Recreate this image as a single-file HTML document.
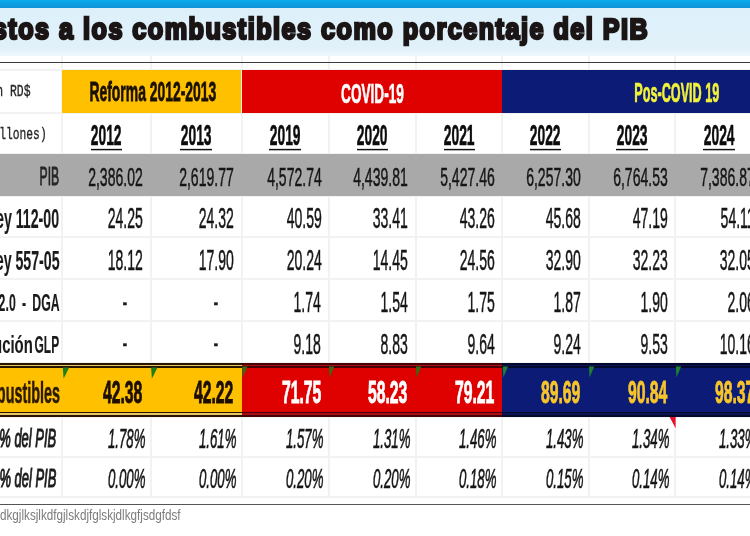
<!DOCTYPE html>
<html lang="es">
<head>
<meta charset="utf-8">
<title>Impuestos a los combustibles como porcentaje del PIB</title>
<style>
html,body{margin:0;padding:0;background:#fff;}
#pg{position:relative;width:750px;height:536px;overflow:hidden;background:#fff;font-family:"Liberation Sans", sans-serif;will-change:transform;}
#pg div,#pg span,#pg svg{position:absolute;}
.t{white-space:nowrap;line-height:1;display:block;}
.v{width:2px;background:#f2f2f2;}
.h{height:2px;background:#f2f2f2;}
</style>
</head>
<body>
<div id="pg">
<div style="left:0.0px;top:0.0px;width:750.0px;height:7.5px;background:linear-gradient(#0baaec,#0f92d6);"></div>
<div style="left:0.0px;top:7.5px;width:750.0px;height:48.5px;background:linear-gradient(#ddf0fa 0,#e1f1fa 85%,#eef7fc 100%);"></div>
<div class="h" style="top:112px;left:0px;width:750px"></div>
<div class="h" style="top:153px;left:0px;width:750px"></div>
<div class="h" style="top:195px;left:0px;width:750px"></div>
<div class="h" style="top:236px;left:0px;width:750px"></div>
<div class="h" style="top:278px;left:0px;width:750px"></div>
<div class="h" style="top:320px;left:0px;width:750px"></div>
<div class="h" style="top:362px;left:0px;width:750px"></div>
<div class="h" style="top:416px;left:0px;width:750px"></div>
<div class="h" style="top:456px;left:0px;width:750px"></div>
<div class="h" style="top:496px;left:0px;width:750px"></div>
<div class="h" style="top:69px;left:0px;width:750px"></div>
<div class="v" style="left:61px;top:56px;height:442px"></div>
<div class="v" style="left:150px;top:56px;height:442px"></div>
<div class="v" style="left:241px;top:56px;height:442px"></div>
<div class="v" style="left:328px;top:56px;height:442px"></div>
<div class="v" style="left:415px;top:56px;height:442px"></div>
<div class="v" style="left:501px;top:56px;height:442px"></div>
<div class="v" style="left:588px;top:56px;height:442px"></div>
<div class="v" style="left:674px;top:56px;height:442px"></div>
<div style="left:0.0px;top:62.0px;width:750.0px;height:1.0px;background:#3a3a3a;"></div>
<div style="left:62.3px;top:70.1px;width:179.2px;height:43.3px;background:#ffc000;"></div>
<div style="left:241.5px;top:70.1px;width:260.9px;height:43.3px;background:#df0000;"></div>
<div style="left:502.4px;top:70.1px;width:247.6px;height:43.3px;background:#0b1b76;"></div>
<div style="left:0.0px;top:154.2px;width:750.0px;height:41.4px;background:#a9a9a9;"></div>
<div style="left:90.7px;top:149.0px;width:31.6px;height:1.0px;background:#111;"></div>
<div style="left:90.7px;top:148.0px;width:31.6px;height:1.0px;background:rgba(17,17,17,0.15);"></div>
<div style="left:90.7px;top:150.0px;width:31.6px;height:1.0px;background:rgba(17,17,17,0.33);"></div>
<div style="left:180.4px;top:149.0px;width:31.6px;height:1.0px;background:#111;"></div>
<div style="left:180.4px;top:148.0px;width:31.6px;height:1.0px;background:rgba(17,17,17,0.15);"></div>
<div style="left:180.4px;top:150.0px;width:31.6px;height:1.0px;background:rgba(17,17,17,0.33);"></div>
<div style="left:269.4px;top:149.0px;width:31.6px;height:1.0px;background:#111;"></div>
<div style="left:269.4px;top:148.0px;width:31.6px;height:1.0px;background:rgba(17,17,17,0.15);"></div>
<div style="left:269.4px;top:150.0px;width:31.6px;height:1.0px;background:rgba(17,17,17,0.33);"></div>
<div style="left:356.7px;top:149.0px;width:31.6px;height:1.0px;background:#111;"></div>
<div style="left:356.7px;top:148.0px;width:31.6px;height:1.0px;background:rgba(17,17,17,0.15);"></div>
<div style="left:356.7px;top:150.0px;width:31.6px;height:1.0px;background:rgba(17,17,17,0.33);"></div>
<div style="left:443.5px;top:149.0px;width:31.6px;height:1.0px;background:#111;"></div>
<div style="left:443.5px;top:148.0px;width:31.6px;height:1.0px;background:rgba(17,17,17,0.15);"></div>
<div style="left:443.5px;top:150.0px;width:31.6px;height:1.0px;background:rgba(17,17,17,0.33);"></div>
<div style="left:529.8px;top:149.0px;width:31.6px;height:1.0px;background:#111;"></div>
<div style="left:529.8px;top:148.0px;width:31.6px;height:1.0px;background:rgba(17,17,17,0.15);"></div>
<div style="left:529.8px;top:150.0px;width:31.6px;height:1.0px;background:rgba(17,17,17,0.33);"></div>
<div style="left:616.2px;top:149.0px;width:31.6px;height:1.0px;background:#111;"></div>
<div style="left:616.2px;top:148.0px;width:31.6px;height:1.0px;background:rgba(17,17,17,0.15);"></div>
<div style="left:616.2px;top:150.0px;width:31.6px;height:1.0px;background:rgba(17,17,17,0.33);"></div>
<div style="left:703.2px;top:149.0px;width:31.6px;height:1.0px;background:#111;"></div>
<div style="left:703.2px;top:148.0px;width:31.6px;height:1.0px;background:rgba(17,17,17,0.15);"></div>
<div style="left:703.2px;top:150.0px;width:31.6px;height:1.0px;background:rgba(17,17,17,0.33);"></div>
<div style="left:0.0px;top:363.3px;width:241.9px;height:53.4px;background:#ffc000;"></div>
<div style="left:0.0px;top:363.3px;width:241.9px;height:4.5px;background:#e6c868;"></div>
<div style="left:0.0px;top:412.0px;width:241.9px;height:4.7px;background:#e6c868;"></div>
<div style="left:0.0px;top:363.0px;width:241.9px;height:1.6px;background:#2a1600;"></div>
<div style="left:0.0px;top:366.2px;width:241.9px;height:1.6px;background:#2a1600;"></div>
<div style="left:0.0px;top:412.0px;width:241.9px;height:1.4px;background:#2a1600;"></div>
<div style="left:0.0px;top:415.0px;width:241.9px;height:1.7px;background:#2a1600;"></div>
<div style="left:241.9px;top:363.3px;width:260.5px;height:53.4px;background:#df0000;"></div>
<div style="left:241.9px;top:363.3px;width:260.5px;height:4.5px;background:#a80f14;"></div>
<div style="left:241.9px;top:412.0px;width:260.5px;height:4.7px;background:#a80f14;"></div>
<div style="left:241.9px;top:363.0px;width:260.5px;height:1.6px;background:#470006;"></div>
<div style="left:241.9px;top:366.2px;width:260.5px;height:1.6px;background:#470006;"></div>
<div style="left:241.9px;top:412.0px;width:260.5px;height:1.4px;background:#470006;"></div>
<div style="left:241.9px;top:415.0px;width:260.5px;height:1.7px;background:#470006;"></div>
<div style="left:502.4px;top:363.3px;width:247.6px;height:53.4px;background:#0b1b76;"></div>
<div style="left:502.4px;top:363.3px;width:247.6px;height:4.5px;background:#0a1452;"></div>
<div style="left:502.4px;top:412.0px;width:247.6px;height:4.7px;background:#0a1452;"></div>
<div style="left:502.4px;top:363.0px;width:247.6px;height:1.6px;background:#04082c;"></div>
<div style="left:502.4px;top:366.2px;width:247.6px;height:1.6px;background:#04082c;"></div>
<div style="left:502.4px;top:412.0px;width:247.6px;height:1.4px;background:#04082c;"></div>
<div style="left:502.4px;top:415.0px;width:247.6px;height:1.7px;background:#04082c;"></div>
<svg style="left:0;top:0" width="750" height="536" viewBox="0 0 750 536">
<polygon points="62.8,367.6 69.2,367.6 63.6,378.8" fill="#1f7f1a"/>
<polygon points="151.1,367.6 157.5,367.6 151.9,378.8" fill="#1f7f1a"/>
<polygon points="242.2,366.4 247.5,366.4 242.7,377.6" fill="#356b14"/>
<polygon points="329.0,366.4 334.3,366.4 329.5,377.6" fill="#356b14"/>
<polygon points="416.0,366.4 421.3,366.4 416.5,377.6" fill="#356b14"/>
<polygon points="502.8,366.4 508.1,366.4 503.3,377.6" fill="#1f8030"/>
<polygon points="589.0,366.4 594.3,366.4 589.5,377.6" fill="#1f8030"/>
<polygon points="675.9,366.4 681.2,366.4 676.4,377.6" fill="#1f8030"/>
<polygon points="669.6,417 675.6,417 675.6,428.2" fill="#e8102a"/>
</svg>
<div style="left:0.0px;top:504.0px;width:750.0px;height:1.2px;background:#555;"></div>
<span class="t" style="top:15.04px;font-size:28.9px;color:#1b1516;font-weight:700;right:100.89px;transform-origin:100% 50%;transform:scaleX(0.8721);-webkit-text-stroke:2.6px #1b1516;letter-spacing:1.7px;">Impuestos a los combustibles como porcentaje del PIB</span>
<span class="t" style="top:83.14px;font-size:17.3px;color:#262626;font-family:'Liberation Mono', monospace;right:719.00px;transform-origin:100% 50%;transform:scaleX(0.6600);-webkit-text-stroke:0.35px #262626;">Millones en RD$</span>
<span class="t" style="top:125.74px;font-size:17.3px;color:#262626;font-family:'Liberation Mono', monospace;right:702.80px;transform-origin:100% 50%;transform:scaleX(0.6550);-webkit-text-stroke:0.35px #262626;">(Millones)</span>
<span class="t" style="top:163.42px;font-size:26.2px;color:#262626;right:690.60px;transform-origin:100% 50%;transform:scaleX(0.4650);-webkit-text-stroke:1.0px #262626;">PIB</span>
<span class="t" style="top:205.26px;font-size:27.1px;color:#1a1a1a;font-weight:700;right:690.80px;transform-origin:100% 50%;transform:scaleX(0.5230);-webkit-text-stroke:0.15px #1a1a1a;">Ley 112-00</span>
<span class="t" style="top:247.16px;font-size:27.1px;color:#1a1a1a;font-weight:700;right:690.80px;transform-origin:100% 50%;transform:scaleX(0.5230);-webkit-text-stroke:0.15px #1a1a1a;">Ley 557-05</span>
<span class="t" style="top:291.25px;font-size:24.4px;color:#1a1a1a;font-weight:700;right:690.70px;transform-origin:100% 50%;transform:scaleX(0.5050);-webkit-text-stroke:0.15px #1a1a1a;word-spacing:5.5px;">Gasoil 2.0 - DGA</span>
<span class="t" style="top:332.75px;font-size:24.4px;color:#1a1a1a;font-weight:700;right:717.20px;transform-origin:100% 50%;transform:scaleX(0.6100);-webkit-text-stroke:0.15px #1a1a1a;">Contribución</span>
<span class="t" style="top:332.75px;font-size:24.4px;color:#1a1a1a;font-weight:700;right:690.60px;transform-origin:100% 50%;transform:scaleX(0.4906);-webkit-text-stroke:0.15px #1a1a1a;">GLP</span>
<span class="t" style="top:376.87px;font-size:30.4px;color:#2b1a00;font-weight:700;right:690.40px;transform-origin:100% 50%;transform:scaleX(0.4740);-webkit-text-stroke:0.6px #2b1a00;">Total impuestos combustibles</span>
<span class="t" style="top:425.32px;font-size:26.2px;color:#1c1c1c;font-style:italic;right:693.50px;transform-origin:100% 50%;transform:scaleX(0.4940);-webkit-text-stroke:1.2px #1c1c1c;">Recaudación % del PIB</span>
<span class="t" style="top:465.12px;font-size:26.2px;color:#1c1c1c;font-style:italic;right:693.50px;transform-origin:100% 50%;transform:scaleX(0.4940);-webkit-text-stroke:1.2px #1c1c1c;">Contribución % del PIB</span>
<span class="t" style="top:78.31px;font-size:27.4px;color:#1a1000;font-weight:700;left:27.54px;transform-origin:50% 50%;transform:scaleX(0.5078);-webkit-text-stroke:0.8px #1a1000;">Reforma 2012-2013</span>
<span class="t" style="top:78.56px;font-size:28.4px;color:#ffffff;font-weight:700;left:307.42px;transform-origin:50% 50%;transform:scaleX(0.4796);-webkit-text-stroke:0.7px #fff;">COVID-19</span>
<span class="t" style="top:79.38px;font-size:27.9px;color:#f2f23a;font-weight:700;left:582.63px;transform-origin:50% 50%;transform:scaleX(0.4532);-webkit-text-stroke:0.7px #f2f23a;">Pos-COVID 19</span>
<span class="t" style="top:119.87px;font-size:29.8px;color:#0c0c0c;font-weight:700;left:73.35px;transform-origin:50% 50%;transform:scaleX(0.4646);-webkit-text-stroke:0.6px #0c0c0c;">2012</span>
<span class="t" style="top:119.87px;font-size:29.8px;color:#0c0c0c;font-weight:700;left:163.05px;transform-origin:50% 50%;transform:scaleX(0.4646);-webkit-text-stroke:0.6px #0c0c0c;">2013</span>
<span class="t" style="top:119.87px;font-size:29.8px;color:#0c0c0c;font-weight:700;left:252.05px;transform-origin:50% 50%;transform:scaleX(0.4646);-webkit-text-stroke:0.6px #0c0c0c;">2019</span>
<span class="t" style="top:119.87px;font-size:29.8px;color:#0c0c0c;font-weight:700;left:339.35px;transform-origin:50% 50%;transform:scaleX(0.4646);-webkit-text-stroke:0.6px #0c0c0c;">2020</span>
<span class="t" style="top:119.87px;font-size:29.8px;color:#0c0c0c;font-weight:700;left:426.15px;transform-origin:50% 50%;transform:scaleX(0.4646);-webkit-text-stroke:0.6px #0c0c0c;">2021</span>
<span class="t" style="top:119.87px;font-size:29.8px;color:#0c0c0c;font-weight:700;left:512.45px;transform-origin:50% 50%;transform:scaleX(0.4646);-webkit-text-stroke:0.6px #0c0c0c;">2022</span>
<span class="t" style="top:119.87px;font-size:29.8px;color:#0c0c0c;font-weight:700;left:598.85px;transform-origin:50% 50%;transform:scaleX(0.4646);-webkit-text-stroke:0.6px #0c0c0c;">2023</span>
<span class="t" style="top:119.87px;font-size:29.8px;color:#0c0c0c;font-weight:700;left:685.85px;transform-origin:50% 50%;transform:scaleX(0.4646);-webkit-text-stroke:0.6px #0c0c0c;">2024</span>
<span class="t" style="top:163.65px;font-size:26.4px;color:#161616;right:607.30px;transform-origin:100% 50%;transform:scaleX(0.5310);-webkit-text-stroke:0.5px #161616;">2,386.02</span>
<span class="t" style="top:163.65px;font-size:26.4px;color:#161616;right:515.90px;transform-origin:100% 50%;transform:scaleX(0.5310);-webkit-text-stroke:0.5px #161616;">2,619.77</span>
<span class="t" style="top:163.65px;font-size:26.4px;color:#161616;right:428.70px;transform-origin:100% 50%;transform:scaleX(0.5310);-webkit-text-stroke:0.5px #161616;">4,572.74</span>
<span class="t" style="top:163.65px;font-size:26.4px;color:#161616;right:342.10px;transform-origin:100% 50%;transform:scaleX(0.5310);-webkit-text-stroke:0.5px #161616;">4,439.81</span>
<span class="t" style="top:163.65px;font-size:26.4px;color:#161616;right:255.40px;transform-origin:100% 50%;transform:scaleX(0.5310);-webkit-text-stroke:0.5px #161616;">5,427.46</span>
<span class="t" style="top:163.65px;font-size:26.4px;color:#161616;right:169.10px;transform-origin:100% 50%;transform:scaleX(0.5310);-webkit-text-stroke:0.5px #161616;">6,257.30</span>
<span class="t" style="top:163.65px;font-size:26.4px;color:#161616;right:82.50px;transform-origin:100% 50%;transform:scaleX(0.5310);-webkit-text-stroke:0.5px #161616;">6,764.53</span>
<span class="t" style="top:163.65px;font-size:26.4px;color:#161616;right:-4.50px;transform-origin:100% 50%;transform:scaleX(0.5310);-webkit-text-stroke:0.5px #161616;">7,386.87</span>
<span class="t" style="top:204.01px;font-size:28.7px;color:#161616;right:607.30px;transform-origin:100% 50%;transform:scaleX(0.4890);-webkit-text-stroke:0.5px #161616;">24.25</span>
<span class="t" style="top:204.01px;font-size:28.7px;color:#161616;right:515.90px;transform-origin:100% 50%;transform:scaleX(0.4890);-webkit-text-stroke:0.5px #161616;">24.32</span>
<span class="t" style="top:204.01px;font-size:28.7px;color:#161616;right:428.70px;transform-origin:100% 50%;transform:scaleX(0.4890);-webkit-text-stroke:0.5px #161616;">40.59</span>
<span class="t" style="top:204.01px;font-size:28.7px;color:#161616;right:342.10px;transform-origin:100% 50%;transform:scaleX(0.4890);-webkit-text-stroke:0.5px #161616;">33.41</span>
<span class="t" style="top:204.01px;font-size:28.7px;color:#161616;right:255.40px;transform-origin:100% 50%;transform:scaleX(0.4890);-webkit-text-stroke:0.5px #161616;">43.26</span>
<span class="t" style="top:204.01px;font-size:28.7px;color:#161616;right:169.10px;transform-origin:100% 50%;transform:scaleX(0.4890);-webkit-text-stroke:0.5px #161616;">45.68</span>
<span class="t" style="top:204.01px;font-size:28.7px;color:#161616;right:82.50px;transform-origin:100% 50%;transform:scaleX(0.4890);-webkit-text-stroke:0.5px #161616;">47.19</span>
<span class="t" style="top:204.01px;font-size:28.7px;color:#161616;right:-4.50px;transform-origin:100% 50%;transform:scaleX(0.4890);-webkit-text-stroke:0.5px #161616;">54.11</span>
<span class="t" style="top:245.91px;font-size:28.7px;color:#161616;right:607.30px;transform-origin:100% 50%;transform:scaleX(0.4890);-webkit-text-stroke:0.5px #161616;">18.12</span>
<span class="t" style="top:245.91px;font-size:28.7px;color:#161616;right:515.90px;transform-origin:100% 50%;transform:scaleX(0.4890);-webkit-text-stroke:0.5px #161616;">17.90</span>
<span class="t" style="top:245.91px;font-size:28.7px;color:#161616;right:428.70px;transform-origin:100% 50%;transform:scaleX(0.4890);-webkit-text-stroke:0.5px #161616;">20.24</span>
<span class="t" style="top:245.91px;font-size:28.7px;color:#161616;right:342.10px;transform-origin:100% 50%;transform:scaleX(0.4890);-webkit-text-stroke:0.5px #161616;">14.45</span>
<span class="t" style="top:245.91px;font-size:28.7px;color:#161616;right:255.40px;transform-origin:100% 50%;transform:scaleX(0.4890);-webkit-text-stroke:0.5px #161616;">24.56</span>
<span class="t" style="top:245.91px;font-size:28.7px;color:#161616;right:169.10px;transform-origin:100% 50%;transform:scaleX(0.4890);-webkit-text-stroke:0.5px #161616;">32.90</span>
<span class="t" style="top:245.91px;font-size:28.7px;color:#161616;right:82.50px;transform-origin:100% 50%;transform:scaleX(0.4890);-webkit-text-stroke:0.5px #161616;">32.23</span>
<span class="t" style="top:245.91px;font-size:28.7px;color:#161616;right:-4.50px;transform-origin:100% 50%;transform:scaleX(0.4890);-webkit-text-stroke:0.5px #161616;">32.05</span>
<span class="t" style="top:287.91px;font-size:28.7px;color:#161616;right:428.70px;transform-origin:100% 50%;transform:scaleX(0.4890);-webkit-text-stroke:0.5px #161616;">1.74</span>
<span class="t" style="top:287.91px;font-size:28.7px;color:#161616;right:342.10px;transform-origin:100% 50%;transform:scaleX(0.4890);-webkit-text-stroke:0.5px #161616;">1.54</span>
<span class="t" style="top:287.91px;font-size:28.7px;color:#161616;right:255.40px;transform-origin:100% 50%;transform:scaleX(0.4890);-webkit-text-stroke:0.5px #161616;">1.75</span>
<span class="t" style="top:287.91px;font-size:28.7px;color:#161616;right:169.10px;transform-origin:100% 50%;transform:scaleX(0.4890);-webkit-text-stroke:0.5px #161616;">1.87</span>
<span class="t" style="top:287.91px;font-size:28.7px;color:#161616;right:82.50px;transform-origin:100% 50%;transform:scaleX(0.4890);-webkit-text-stroke:0.5px #161616;">1.90</span>
<span class="t" style="top:287.91px;font-size:28.7px;color:#161616;right:-4.50px;transform-origin:100% 50%;transform:scaleX(0.4890);-webkit-text-stroke:0.5px #161616;">2.06</span>
<span class="t" style="top:329.71px;font-size:28.7px;color:#161616;right:428.70px;transform-origin:100% 50%;transform:scaleX(0.4890);-webkit-text-stroke:0.5px #161616;">9.18</span>
<span class="t" style="top:329.71px;font-size:28.7px;color:#161616;right:342.10px;transform-origin:100% 50%;transform:scaleX(0.4890);-webkit-text-stroke:0.5px #161616;">8.83</span>
<span class="t" style="top:329.71px;font-size:28.7px;color:#161616;right:255.40px;transform-origin:100% 50%;transform:scaleX(0.4890);-webkit-text-stroke:0.5px #161616;">9.64</span>
<span class="t" style="top:329.71px;font-size:28.7px;color:#161616;right:169.10px;transform-origin:100% 50%;transform:scaleX(0.4890);-webkit-text-stroke:0.5px #161616;">9.24</span>
<span class="t" style="top:329.71px;font-size:28.7px;color:#161616;right:82.50px;transform-origin:100% 50%;transform:scaleX(0.4890);-webkit-text-stroke:0.5px #161616;">9.53</span>
<span class="t" style="top:329.71px;font-size:28.7px;color:#161616;right:-4.50px;transform-origin:100% 50%;transform:scaleX(0.4890);-webkit-text-stroke:0.5px #161616;">10.16</span>
<span class="t" style="top:287.51px;font-size:28.7px;color:#1a1a1a;left:119.72px;transform-origin:50% 50%;transform:scaleX(0.5000);-webkit-text-stroke:0.45px #1a1a1a;">-</span>
<span class="t" style="top:287.51px;font-size:28.7px;color:#1a1a1a;left:211.02px;transform-origin:50% 50%;transform:scaleX(0.5000);-webkit-text-stroke:0.45px #1a1a1a;">-</span>
<span class="t" style="top:329.31px;font-size:28.7px;color:#1a1a1a;left:119.72px;transform-origin:50% 50%;transform:scaleX(0.5000);-webkit-text-stroke:0.45px #1a1a1a;">-</span>
<span class="t" style="top:329.31px;font-size:28.7px;color:#1a1a1a;left:211.02px;transform-origin:50% 50%;transform:scaleX(0.5000);-webkit-text-stroke:0.45px #1a1a1a;">-</span>
<span class="t" style="top:377.18px;font-size:30.5px;color:#1c0e00;font-weight:700;right:607.70px;transform-origin:100% 50%;transform:scaleX(0.5162);-webkit-text-stroke:0.9px #1c0e00;">42.38</span>
<span class="t" style="top:377.18px;font-size:30.5px;color:#1c0e00;font-weight:700;right:516.30px;transform-origin:100% 50%;transform:scaleX(0.5162);-webkit-text-stroke:0.9px #1c0e00;">42.22</span>
<span class="t" style="top:377.18px;font-size:30.5px;color:#fff;font-weight:700;right:429.10px;transform-origin:100% 50%;transform:scaleX(0.5162);-webkit-text-stroke:0.9px #fff;">71.75</span>
<span class="t" style="top:377.18px;font-size:30.5px;color:#fff;font-weight:700;right:342.50px;transform-origin:100% 50%;transform:scaleX(0.5162);-webkit-text-stroke:0.9px #fff;">58.23</span>
<span class="t" style="top:377.18px;font-size:30.5px;color:#fff;font-weight:700;right:255.80px;transform-origin:100% 50%;transform:scaleX(0.5162);-webkit-text-stroke:0.9px #fff;">79.21</span>
<span class="t" style="top:377.18px;font-size:30.5px;color:#f7c52b;font-weight:700;right:169.50px;transform-origin:100% 50%;transform:scaleX(0.5162);-webkit-text-stroke:0.9px #f7c52b;">89.69</span>
<span class="t" style="top:377.18px;font-size:30.5px;color:#f7c52b;font-weight:700;right:82.90px;transform-origin:100% 50%;transform:scaleX(0.5162);-webkit-text-stroke:0.9px #f7c52b;">90.84</span>
<span class="t" style="top:377.18px;font-size:30.5px;color:#f7c52b;font-weight:700;right:-4.10px;transform-origin:100% 50%;transform:scaleX(0.5162);-webkit-text-stroke:0.9px #f7c52b;">98.37</span>
<span class="t" style="top:425.09px;font-size:27.3px;color:#161616;font-style:italic;right:605.10px;transform-origin:100% 50%;transform:scaleX(0.4845);-webkit-text-stroke:0.65px #161616;">1.78%</span>
<span class="t" style="top:425.09px;font-size:27.3px;color:#161616;font-style:italic;right:513.70px;transform-origin:100% 50%;transform:scaleX(0.4845);-webkit-text-stroke:0.65px #161616;">1.61%</span>
<span class="t" style="top:425.09px;font-size:27.3px;color:#161616;font-style:italic;right:426.50px;transform-origin:100% 50%;transform:scaleX(0.4845);-webkit-text-stroke:0.65px #161616;">1.57%</span>
<span class="t" style="top:425.09px;font-size:27.3px;color:#161616;font-style:italic;right:339.90px;transform-origin:100% 50%;transform:scaleX(0.4845);-webkit-text-stroke:0.65px #161616;">1.31%</span>
<span class="t" style="top:425.09px;font-size:27.3px;color:#161616;font-style:italic;right:253.20px;transform-origin:100% 50%;transform:scaleX(0.4845);-webkit-text-stroke:0.65px #161616;">1.46%</span>
<span class="t" style="top:425.09px;font-size:27.3px;color:#161616;font-style:italic;right:166.90px;transform-origin:100% 50%;transform:scaleX(0.4845);-webkit-text-stroke:0.65px #161616;">1.43%</span>
<span class="t" style="top:425.09px;font-size:27.3px;color:#161616;font-style:italic;right:80.30px;transform-origin:100% 50%;transform:scaleX(0.4845);-webkit-text-stroke:0.65px #161616;">1.34%</span>
<span class="t" style="top:425.09px;font-size:27.3px;color:#161616;font-style:italic;right:-6.70px;transform-origin:100% 50%;transform:scaleX(0.4845);-webkit-text-stroke:0.65px #161616;">1.33%</span>
<span class="t" style="top:464.79px;font-size:27.3px;color:#161616;font-style:italic;right:605.10px;transform-origin:100% 50%;transform:scaleX(0.4845);-webkit-text-stroke:0.65px #161616;">0.00%</span>
<span class="t" style="top:464.79px;font-size:27.3px;color:#161616;font-style:italic;right:513.70px;transform-origin:100% 50%;transform:scaleX(0.4845);-webkit-text-stroke:0.65px #161616;">0.00%</span>
<span class="t" style="top:464.79px;font-size:27.3px;color:#161616;font-style:italic;right:426.50px;transform-origin:100% 50%;transform:scaleX(0.4845);-webkit-text-stroke:0.65px #161616;">0.20%</span>
<span class="t" style="top:464.79px;font-size:27.3px;color:#161616;font-style:italic;right:339.90px;transform-origin:100% 50%;transform:scaleX(0.4845);-webkit-text-stroke:0.65px #161616;">0.20%</span>
<span class="t" style="top:464.79px;font-size:27.3px;color:#161616;font-style:italic;right:253.20px;transform-origin:100% 50%;transform:scaleX(0.4845);-webkit-text-stroke:0.65px #161616;">0.18%</span>
<span class="t" style="top:464.79px;font-size:27.3px;color:#161616;font-style:italic;right:166.90px;transform-origin:100% 50%;transform:scaleX(0.4845);-webkit-text-stroke:0.65px #161616;">0.15%</span>
<span class="t" style="top:464.79px;font-size:27.3px;color:#161616;font-style:italic;right:80.30px;transform-origin:100% 50%;transform:scaleX(0.4845);-webkit-text-stroke:0.65px #161616;">0.14%</span>
<span class="t" style="top:464.79px;font-size:27.3px;color:#161616;font-style:italic;right:-6.70px;transform-origin:100% 50%;transform:scaleX(0.4845);-webkit-text-stroke:0.65px #161616;">0.14%</span>
<span class="t" style="top:506.55px;font-size:15.3px;color:#7c7c7c;left:0.30px;transform-origin:0 50%;transform:scaleX(0.7641);">dkgjlksjlkdfgjlskdjfglskjdlkgfjsdgfdsf</span>
</div>
</body>
</html>
